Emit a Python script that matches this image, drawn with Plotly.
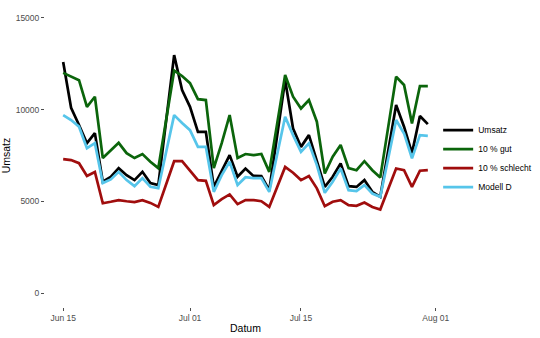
import pandas as pd
import plotly.graph_objects as go

dates = pd.date_range("2015-06-15", "2015-07-31", freq="D")

umsatz = [12590, 10100, 9160, 8170, 8720, 6070, 6340, 6810, 6430, 6160, 6610, 6000,
          5890, 9430, 12970, 11060, 10150, 8790, 8790, 5790, 6700, 7520, 6340, 6790,
          6390, 6380, 5610, 8610, 11610, 8970, 7970, 8610, 7250, 5790, 6340, 7070,
          5830, 5790, 6160, 5520, 5250, 7750, 10250, 9070, 7630, 9650, 9210]
gut = [12000, 11800, 11600, 10150, 10700, 7360, 7800, 8190, 7630, 7360, 7580, 7160,
       6810, 9465, 12120, 11830, 11440, 10570, 10520, 6810, 8170, 9700, 7360, 7580,
       7520, 7580, 6610, 9245, 11880, 10700, 10060, 10520, 9340, 6520, 7430, 8070,
       6810, 6700, 7190, 6700, 6300, 9045, 11790, 11340, 9250, 11280, 11280]
schlecht = [7300, 7250, 7080, 6380, 6600, 4900, 4980, 5070, 5010, 4960, 5070, 4920,
            4700, 5945, 7190, 7190, 6670, 6160, 6120, 4800, 5120, 5380, 4850, 5070,
            5070, 5010, 4700, 5790, 6880, 6560, 6160, 6380, 5710, 4740, 4980, 5070,
            4800, 4760, 4940, 4700, 4560, 5675, 6790, 6700, 5790, 6670, 6700]
modell_d = [9700, 9430, 9070, 7900, 8170, 6000, 6200, 6610, 6160, 5830, 6270, 5800,
            5720, 7710, 9700, 9270, 8880, 7970, 7970, 5520, 6430, 7160, 5890, 6320,
            6270, 6270, 5520, 7565, 9610, 8610, 7700, 8160, 6980, 5470, 6070, 6790,
            5610, 5560, 5890, 5430, 5250, 7340, 9430, 8700, 7340, 8610, 8570]

series_names = ["Umsatz", "10 % gut", "10 % schlecht", "Modell D"]
series_values = [umsatz, gut, schlecht, modell_d]
series_colors = ["#000000", "#0b650b", "#a00d0d", "#56c5ea"]

x_tickvals = ["2015-06-15", "2015-07-01", "2015-07-15", "2015-08-01"]
y_tickvals = [0, 5000, 10000, 15000]
y_ticktext = ["0", "5000", "10000", "15000"]

fig = go.Figure()
for name, vals, col in zip(series_names, series_values, series_colors):
    fig.add_trace(go.Scatter(x=dates, y=vals, mode="lines", name=name,
                             line=dict(color=col, width=2.7)))

tickfont = dict(family="Liberation Sans, Arial, sans-serif", size=8.5, color="#4d4d4d")
fig.update_layout(
    width=540, height=338,
    margin=dict(l=45, r=93, t=4, b=31),
    paper_bgcolor="white", plot_bgcolor="white",
    font=dict(family="Liberation Sans, Arial, sans-serif", color="black"),
    legend=dict(x=0.978, y=0.49, xanchor="left", yanchor="middle",
                font=dict(size=8.5, color="black"), bgcolor="rgba(0,0,0,0)",
                tracegroupgap=0, itemwidth=30),
    showlegend=True,
)
fig.update_xaxes(
    range=["2015-06-12 17:00", "2015-08-02 07:00"],
    tickvals=x_tickvals, tickformat="%b %d",
    showgrid=False, zeroline=False, showline=False,
    ticks="outside", ticklen=3, tickcolor="#4d4d4d", tickwidth=1,
    tickfont=tickfont,
    title=dict(text="Datum", font=dict(size=10.5, color="black"), standoff=2),
)
fig.update_yaxes(
    range=[-750, 15750],
    tickvals=y_tickvals, ticktext=y_ticktext,
    showgrid=False, zeroline=False, showline=False,
    ticks="outside", ticklen=3, tickcolor="#4d4d4d", tickwidth=1,
    tickfont=tickfont,
    title=dict(text="Umsatz", font=dict(size=10.5, color="black"), standoff=4),
)
fig.write_html("out.html")
